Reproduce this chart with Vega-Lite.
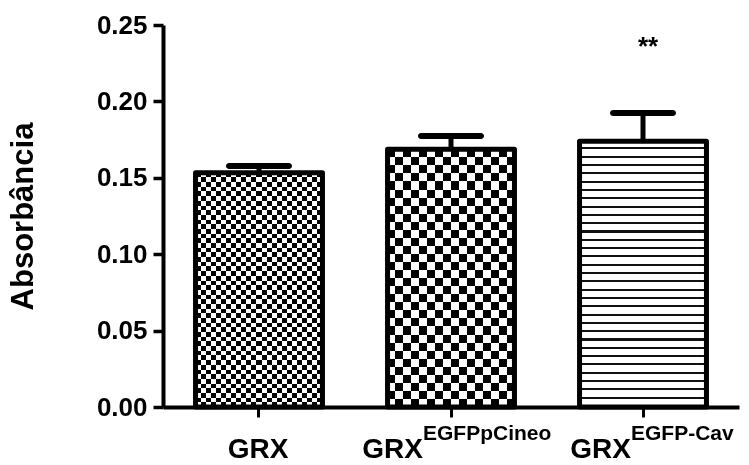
{
  "$schema": "https://vega.github.io/schema/vega-lite/v6.json",
  "width": 576,
  "height": 382,
  "autosize": {"type": "none"},
  "padding": {"left": 163, "top": 25, "right": 10, "bottom": 58},
  "background": "white",
  "config": {
    "view": {"stroke": null},
    "font": "Liberation Sans",
    "axisX": {"labels": false, "tickSize": 10, "tickWidth": 3, "domainWidth": 4, "domainColor": "black", "tickColor": "black", "grid": false}
  },
  "data": {
    "values": [
      {"group": "GRX", "main": "GRX", "sup": "", "value": 0.1533, "upper": 0.1578, "sig": ""},
      {"group": "GRX-EGFPpCineo", "main": "GRX", "sup": "EGFPpCineo", "value": 0.1687, "upper": 0.1774, "sig": ""},
      {"group": "GRX-EGFP-Cav", "main": "GRX", "sup": "EGFP-Cav", "value": 0.1740, "upper": 0.1924, "sig": "**"}
    ]
  },
  "encoding": {
    "x": {"field": "group", "type": "nominal", "sort": null, "title": null, "scale": {"paddingInner": 0.339, "paddingOuter": 0.1695}}
  },
  "layer": [
    {
      "mark": {"type": "rule", "color": "black", "strokeWidth": 5},
      "encoding": {
        "y": {"field": "value", "type": "quantitative", "title": "Absorbância", "scale": {"domain": [0, 0.25], "nice": false},
          "axis": {"values": [0, 0.05, 0.1, 0.15, 0.2, 0.25], "format": ".2f", "grid": false, "domainColor": "black", "domainWidth": 4, "tickColor": "black", "tickSize": 10, "tickWidth": 3.5, "labelColor": "black", "labelFont": "Liberation Sans", "labelFontSize": 26, "labelFontWeight": "bold", "labelPadding": 6, "titleColor": "black", "titleFont": "Liberation Sans", "titleFontSize": 31, "titleFontWeight": "bold", "titlePadding": 57}},
        "y2": {"field": "upper"}
      }
    },
    {
      "mark": {"type": "tick", "color": "black", "size": 66, "thickness": 6, "cornerRadius": 3, "opacity": 1},
      "encoding": {
        "y": {"field": "upper", "type": "quantitative", "title": "Absorbância"}
      }
    },
    {
      "transform": [{"filter": "datum.group == 'GRX'"}],
      "mark": {"type": "bar", "fill": {"gradient": "linear", "x1": 0, "y1": 0, "x2": 1, "y2": 0, "stops": [
        {"offset":0,"color":"black"},{"offset":0.04,"color":"black"},{"offset":0.04,"color":"white"},{"offset":0.08,"color":"white"},
        {"offset":0.08,"color":"black"},{"offset":0.12,"color":"black"},{"offset":0.12,"color":"white"},{"offset":0.16,"color":"white"},
        {"offset":0.16,"color":"black"},{"offset":0.2,"color":"black"},{"offset":0.2,"color":"white"},{"offset":0.24,"color":"white"},
        {"offset":0.24,"color":"black"},{"offset":0.28,"color":"black"},{"offset":0.28,"color":"white"},{"offset":0.32,"color":"white"},
        {"offset":0.32,"color":"black"},{"offset":0.36,"color":"black"},{"offset":0.36,"color":"white"},{"offset":0.4,"color":"white"},
        {"offset":0.4,"color":"black"},{"offset":0.44,"color":"black"},{"offset":0.44,"color":"white"},{"offset":0.48,"color":"white"},
        {"offset":0.48,"color":"black"},{"offset":0.52,"color":"black"},{"offset":0.52,"color":"white"},{"offset":0.56,"color":"white"},
        {"offset":0.56,"color":"black"},{"offset":0.6,"color":"black"},{"offset":0.6,"color":"white"},{"offset":0.64,"color":"white"},
        {"offset":0.64,"color":"black"},{"offset":0.68,"color":"black"},{"offset":0.68,"color":"white"},{"offset":0.72,"color":"white"},
        {"offset":0.72,"color":"black"},{"offset":0.76,"color":"black"},{"offset":0.76,"color":"white"},{"offset":0.8,"color":"white"},
        {"offset":0.8,"color":"black"},{"offset":0.84,"color":"black"},{"offset":0.84,"color":"white"},{"offset":0.88,"color":"white"},
        {"offset":0.88,"color":"black"},{"offset":0.92,"color":"black"},{"offset":0.92,"color":"white"},{"offset":0.96,"color":"white"},
        {"offset":0.96,"color":"black"},{"offset":1,"color":"black"}
      ]}},
      "encoding": {"y": {"field": "value", "type": "quantitative", "title": "Absorbância"}}
    },
    {
      "transform": [{"filter": "datum.group == 'GRX'"}],
      "mark": {"type": "bar", "blend": "difference", "fill": {"gradient": "linear", "x1": 0, "y1": 0, "x2": 0, "y2": 1, "stops": [
        {"offset":0,"color":"black"},{"offset":0.02,"color":"black"},{"offset":0.02,"color":"white"},{"offset":0.04,"color":"white"},
        {"offset":0.04,"color":"black"},{"offset":0.06,"color":"black"},{"offset":0.06,"color":"white"},{"offset":0.08,"color":"white"},
        {"offset":0.08,"color":"black"},{"offset":0.1,"color":"black"},{"offset":0.1,"color":"white"},{"offset":0.12,"color":"white"},
        {"offset":0.12,"color":"black"},{"offset":0.14,"color":"black"},{"offset":0.14,"color":"white"},{"offset":0.16,"color":"white"},
        {"offset":0.16,"color":"black"},{"offset":0.18,"color":"black"},{"offset":0.18,"color":"white"},{"offset":0.2,"color":"white"},
        {"offset":0.2,"color":"black"},{"offset":0.22,"color":"black"},{"offset":0.22,"color":"white"},{"offset":0.24,"color":"white"},
        {"offset":0.24,"color":"black"},{"offset":0.26,"color":"black"},{"offset":0.26,"color":"white"},{"offset":0.28,"color":"white"},
        {"offset":0.28,"color":"black"},{"offset":0.3,"color":"black"},{"offset":0.3,"color":"white"},{"offset":0.32,"color":"white"},
        {"offset":0.32,"color":"black"},{"offset":0.34,"color":"black"},{"offset":0.34,"color":"white"},{"offset":0.36,"color":"white"},
        {"offset":0.36,"color":"black"},{"offset":0.38,"color":"black"},{"offset":0.38,"color":"white"},{"offset":0.4,"color":"white"},
        {"offset":0.4,"color":"black"},{"offset":0.42,"color":"black"},{"offset":0.42,"color":"white"},{"offset":0.44,"color":"white"},
        {"offset":0.44,"color":"black"},{"offset":0.46,"color":"black"},{"offset":0.46,"color":"white"},{"offset":0.48,"color":"white"},
        {"offset":0.48,"color":"black"},{"offset":0.5,"color":"black"},{"offset":0.5,"color":"white"},{"offset":0.52,"color":"white"},
        {"offset":0.52,"color":"black"},{"offset":0.54,"color":"black"},{"offset":0.54,"color":"white"},{"offset":0.56,"color":"white"},
        {"offset":0.56,"color":"black"},{"offset":0.58,"color":"black"},{"offset":0.58,"color":"white"},{"offset":0.6,"color":"white"},
        {"offset":0.6,"color":"black"},{"offset":0.62,"color":"black"},{"offset":0.62,"color":"white"},{"offset":0.64,"color":"white"},
        {"offset":0.64,"color":"black"},{"offset":0.66,"color":"black"},{"offset":0.66,"color":"white"},{"offset":0.68,"color":"white"},
        {"offset":0.68,"color":"black"},{"offset":0.7,"color":"black"},{"offset":0.7,"color":"white"},{"offset":0.72,"color":"white"},
        {"offset":0.72,"color":"black"},{"offset":0.74,"color":"black"},{"offset":0.74,"color":"white"},{"offset":0.76,"color":"white"},
        {"offset":0.76,"color":"black"},{"offset":0.78,"color":"black"},{"offset":0.78,"color":"white"},{"offset":0.8,"color":"white"},
        {"offset":0.8,"color":"black"},{"offset":0.82,"color":"black"},{"offset":0.82,"color":"white"},{"offset":0.84,"color":"white"},
        {"offset":0.84,"color":"black"},{"offset":0.86,"color":"black"},{"offset":0.86,"color":"white"},{"offset":0.88,"color":"white"},
        {"offset":0.88,"color":"black"},{"offset":0.9,"color":"black"},{"offset":0.9,"color":"white"},{"offset":0.92,"color":"white"},
        {"offset":0.92,"color":"black"},{"offset":0.94,"color":"black"},{"offset":0.94,"color":"white"},{"offset":0.96,"color":"white"},
        {"offset":0.96,"color":"black"},{"offset":0.98,"color":"black"},{"offset":0.98,"color":"white"},{"offset":1,"color":"white"}
      ]}},
      "encoding": {"y": {"field": "value", "type": "quantitative", "title": "Absorbância"}}
    },
    {
      "transform": [{"filter": "datum.group == 'GRX-EGFPpCineo'"}],
      "mark": {"type": "bar", "fill": {"gradient": "linear", "x1": 0, "y1": 0, "x2": 1, "y2": 0, "stops": [
        {"offset":0,"color":"black"},{"offset":0.0625,"color":"black"},{"offset":0.0625,"color":"white"},{"offset":0.125,"color":"white"},
        {"offset":0.125,"color":"black"},{"offset":0.1875,"color":"black"},{"offset":0.1875,"color":"white"},{"offset":0.25,"color":"white"},
        {"offset":0.25,"color":"black"},{"offset":0.3125,"color":"black"},{"offset":0.3125,"color":"white"},{"offset":0.375,"color":"white"},
        {"offset":0.375,"color":"black"},{"offset":0.4375,"color":"black"},{"offset":0.4375,"color":"white"},{"offset":0.5,"color":"white"},
        {"offset":0.5,"color":"black"},{"offset":0.5625,"color":"black"},{"offset":0.5625,"color":"white"},{"offset":0.625,"color":"white"},
        {"offset":0.625,"color":"black"},{"offset":0.6875,"color":"black"},{"offset":0.6875,"color":"white"},{"offset":0.75,"color":"white"},
        {"offset":0.75,"color":"black"},{"offset":0.8125,"color":"black"},{"offset":0.8125,"color":"white"},{"offset":0.875,"color":"white"},
        {"offset":0.875,"color":"black"},{"offset":0.9375,"color":"black"},{"offset":0.9375,"color":"white"},{"offset":1,"color":"white"}
      ]}},
      "encoding": {"y": {"field": "value", "type": "quantitative", "title": "Absorbância"}}
    },
    {
      "transform": [{"filter": "datum.group == 'GRX-EGFPpCineo'"}],
      "mark": {"type": "bar", "blend": "difference", "fill": {"gradient": "linear", "x1": 0, "y1": 0, "x2": 0, "y2": 1, "stops": [
        {"offset":0,"color":"black"},{"offset":0.03125,"color":"black"},{"offset":0.03125,"color":"white"},{"offset":0.0625,"color":"white"},
        {"offset":0.0625,"color":"black"},{"offset":0.09375,"color":"black"},{"offset":0.09375,"color":"white"},{"offset":0.125,"color":"white"},
        {"offset":0.125,"color":"black"},{"offset":0.15625,"color":"black"},{"offset":0.15625,"color":"white"},{"offset":0.1875,"color":"white"},
        {"offset":0.1875,"color":"black"},{"offset":0.21875,"color":"black"},{"offset":0.21875,"color":"white"},{"offset":0.25,"color":"white"},
        {"offset":0.25,"color":"black"},{"offset":0.28125,"color":"black"},{"offset":0.28125,"color":"white"},{"offset":0.3125,"color":"white"},
        {"offset":0.3125,"color":"black"},{"offset":0.34375,"color":"black"},{"offset":0.34375,"color":"white"},{"offset":0.375,"color":"white"},
        {"offset":0.375,"color":"black"},{"offset":0.40625,"color":"black"},{"offset":0.40625,"color":"white"},{"offset":0.4375,"color":"white"},
        {"offset":0.4375,"color":"black"},{"offset":0.46875,"color":"black"},{"offset":0.46875,"color":"white"},{"offset":0.5,"color":"white"},
        {"offset":0.5,"color":"black"},{"offset":0.53125,"color":"black"},{"offset":0.53125,"color":"white"},{"offset":0.5625,"color":"white"},
        {"offset":0.5625,"color":"black"},{"offset":0.59375,"color":"black"},{"offset":0.59375,"color":"white"},{"offset":0.625,"color":"white"},
        {"offset":0.625,"color":"black"},{"offset":0.65625,"color":"black"},{"offset":0.65625,"color":"white"},{"offset":0.6875,"color":"white"},
        {"offset":0.6875,"color":"black"},{"offset":0.71875,"color":"black"},{"offset":0.71875,"color":"white"},{"offset":0.75,"color":"white"},
        {"offset":0.75,"color":"black"},{"offset":0.78125,"color":"black"},{"offset":0.78125,"color":"white"},{"offset":0.8125,"color":"white"},
        {"offset":0.8125,"color":"black"},{"offset":0.84375,"color":"black"},{"offset":0.84375,"color":"white"},{"offset":0.875,"color":"white"},
        {"offset":0.875,"color":"black"},{"offset":0.90625,"color":"black"},{"offset":0.90625,"color":"white"},{"offset":0.9375,"color":"white"},
        {"offset":0.9375,"color":"black"},{"offset":0.96875,"color":"black"},{"offset":0.96875,"color":"white"},{"offset":1,"color":"white"}
      ]}},
      "encoding": {"y": {"field": "value", "type": "quantitative", "title": "Absorbância"}}
    },
    {
      "transform": [{"filter": "datum.group == 'GRX-EGFP-Cav'"}],
      "mark": {"type": "bar", "fill": {"gradient": "linear", "x1": 0, "y1": 0, "x2": 0, "y2": 1, "stops": [
        {"offset":0,"color":"white"},{"offset":0.0235,"color":"white"},{"offset":0.0235,"color":"#111"},{"offset":0.03125,"color":"#111"},
        {"offset":0.03125,"color":"white"},{"offset":0.05475,"color":"white"},{"offset":0.05475,"color":"#111"},{"offset":0.0625,"color":"#111"},
        {"offset":0.0625,"color":"white"},{"offset":0.086,"color":"white"},{"offset":0.086,"color":"#111"},{"offset":0.09375,"color":"#111"},
        {"offset":0.09375,"color":"white"},{"offset":0.11725,"color":"white"},{"offset":0.11725,"color":"#111"},{"offset":0.125,"color":"#111"},
        {"offset":0.125,"color":"white"},{"offset":0.1485,"color":"white"},{"offset":0.1485,"color":"#111"},{"offset":0.15625,"color":"#111"},
        {"offset":0.15625,"color":"white"},{"offset":0.17975,"color":"white"},{"offset":0.17975,"color":"#111"},{"offset":0.1875,"color":"#111"},
        {"offset":0.1875,"color":"white"},{"offset":0.211,"color":"white"},{"offset":0.211,"color":"#111"},{"offset":0.21875,"color":"#111"},
        {"offset":0.21875,"color":"white"},{"offset":0.24225,"color":"white"},{"offset":0.24225,"color":"#111"},{"offset":0.25,"color":"#111"},
        {"offset":0.25,"color":"white"},{"offset":0.2735,"color":"white"},{"offset":0.2735,"color":"#111"},{"offset":0.28125,"color":"#111"},
        {"offset":0.28125,"color":"white"},{"offset":0.30475,"color":"white"},{"offset":0.30475,"color":"#111"},{"offset":0.3125,"color":"#111"},
        {"offset":0.3125,"color":"white"},{"offset":0.336,"color":"white"},{"offset":0.336,"color":"#111"},{"offset":0.34375,"color":"#111"},
        {"offset":0.34375,"color":"white"},{"offset":0.36725,"color":"white"},{"offset":0.36725,"color":"#111"},{"offset":0.375,"color":"#111"},
        {"offset":0.375,"color":"white"},{"offset":0.3985,"color":"white"},{"offset":0.3985,"color":"#111"},{"offset":0.40625,"color":"#111"},
        {"offset":0.40625,"color":"white"},{"offset":0.42975,"color":"white"},{"offset":0.42975,"color":"#111"},{"offset":0.4375,"color":"#111"},
        {"offset":0.4375,"color":"white"},{"offset":0.461,"color":"white"},{"offset":0.461,"color":"#111"},{"offset":0.46875,"color":"#111"},
        {"offset":0.46875,"color":"white"},{"offset":0.49225,"color":"white"},{"offset":0.49225,"color":"#111"},{"offset":0.5,"color":"#111"},
        {"offset":0.5,"color":"white"},{"offset":0.5235,"color":"white"},{"offset":0.5235,"color":"#111"},{"offset":0.53125,"color":"#111"},
        {"offset":0.53125,"color":"white"},{"offset":0.55475,"color":"white"},{"offset":0.55475,"color":"#111"},{"offset":0.5625,"color":"#111"},
        {"offset":0.5625,"color":"white"},{"offset":0.586,"color":"white"},{"offset":0.586,"color":"#111"},{"offset":0.59375,"color":"#111"},
        {"offset":0.59375,"color":"white"},{"offset":0.61725,"color":"white"},{"offset":0.61725,"color":"#111"},{"offset":0.625,"color":"#111"},
        {"offset":0.625,"color":"white"},{"offset":0.6485,"color":"white"},{"offset":0.6485,"color":"#111"},{"offset":0.65625,"color":"#111"},
        {"offset":0.65625,"color":"white"},{"offset":0.67975,"color":"white"},{"offset":0.67975,"color":"#111"},{"offset":0.6875,"color":"#111"},
        {"offset":0.6875,"color":"white"},{"offset":0.711,"color":"white"},{"offset":0.711,"color":"#111"},{"offset":0.71875,"color":"#111"},
        {"offset":0.71875,"color":"white"},{"offset":0.74225,"color":"white"},{"offset":0.74225,"color":"#111"},{"offset":0.75,"color":"#111"},
        {"offset":0.75,"color":"white"},{"offset":0.7735,"color":"white"},{"offset":0.7735,"color":"#111"},{"offset":0.78125,"color":"#111"},
        {"offset":0.78125,"color":"white"},{"offset":0.80475,"color":"white"},{"offset":0.80475,"color":"#111"},{"offset":0.8125,"color":"#111"},
        {"offset":0.8125,"color":"white"},{"offset":0.836,"color":"white"},{"offset":0.836,"color":"#111"},{"offset":0.84375,"color":"#111"},
        {"offset":0.84375,"color":"white"},{"offset":0.86725,"color":"white"},{"offset":0.86725,"color":"#111"},{"offset":0.875,"color":"#111"},
        {"offset":0.875,"color":"white"},{"offset":0.8985,"color":"white"},{"offset":0.8985,"color":"#111"},{"offset":0.90625,"color":"#111"},
        {"offset":0.90625,"color":"white"},{"offset":0.92975,"color":"white"},{"offset":0.92975,"color":"#111"},{"offset":0.9375,"color":"#111"},
        {"offset":0.9375,"color":"white"},{"offset":0.961,"color":"white"},{"offset":0.961,"color":"#111"},{"offset":0.96875,"color":"#111"},
        {"offset":0.96875,"color":"white"},{"offset":0.99225,"color":"white"},{"offset":0.99225,"color":"#111"},{"offset":1,"color":"#111"}
      ]}},
      "encoding": {"y": {"field": "value", "type": "quantitative", "title": "Absorbância"}}
    },
    {
      "mark": {"type": "bar", "fill": "white", "fillOpacity": 0, "stroke": "black", "strokeWidth": 5, "strokeJoin": "round"},
      "encoding": {"y": {"field": "value", "type": "quantitative", "title": "Absorbância"}}
    },
    {
      "mark": {"type": "text", "font": "Liberation Sans", "fontWeight": "bold", "fontSize": 26, "color": "black", "dx": 5, "dy": -66, "baseline": "middle"},
      "encoding": {
        "y": {"field": "upper", "type": "quantitative", "title": "Absorbância"},
        "text": {"field": "sig"}
      }
    },
    {
      "transform": [{"filter": "datum.group == 'GRX'"}],
      "mark": {"type": "text", "font": "Liberation Sans", "fontWeight": "bold", "fontSize": 28, "color": "black", "align": "center", "baseline": "alphabetic", "dx": -1},
      "encoding": {"y": {"datum": -0.0334, "type": "quantitative"}, "text": {"field": "main"}}
    },
    {
      "transform": [{"filter": "datum.group == 'GRX-EGFPpCineo'"}],
      "mark": {"type": "text", "font": "Liberation Sans", "fontWeight": "bold", "fontSize": 28, "color": "black", "align": "right", "baseline": "alphabetic", "dx": -28},
      "encoding": {"y": {"datum": -0.0334, "type": "quantitative"}, "text": {"field": "main"}}
    },
    {
      "transform": [{"filter": "datum.group == 'GRX-EGFPpCineo'"}],
      "mark": {"type": "text", "font": "Liberation Sans", "fontWeight": "bold", "fontSize": 21, "color": "black", "align": "left", "baseline": "alphabetic", "dx": -28, "dy": -18},
      "encoding": {"y": {"datum": -0.0334, "type": "quantitative"}, "text": {"field": "sup"}}
    },
    {
      "transform": [{"filter": "datum.group == 'GRX-EGFP-Cav'"}],
      "mark": {"type": "text", "font": "Liberation Sans", "fontWeight": "bold", "fontSize": 28, "color": "black", "align": "right", "baseline": "alphabetic", "dx": -12},
      "encoding": {"y": {"datum": -0.0334, "type": "quantitative"}, "text": {"field": "main"}}
    },
    {
      "transform": [{"filter": "datum.group == 'GRX-EGFP-Cav'"}],
      "mark": {"type": "text", "font": "Liberation Sans", "fontWeight": "bold", "fontSize": 21, "color": "black", "align": "left", "baseline": "alphabetic", "dx": -12, "dy": -18},
      "encoding": {"y": {"datum": -0.0334, "type": "quantitative"}, "text": {"field": "sup"}}
    }
  ]
}
